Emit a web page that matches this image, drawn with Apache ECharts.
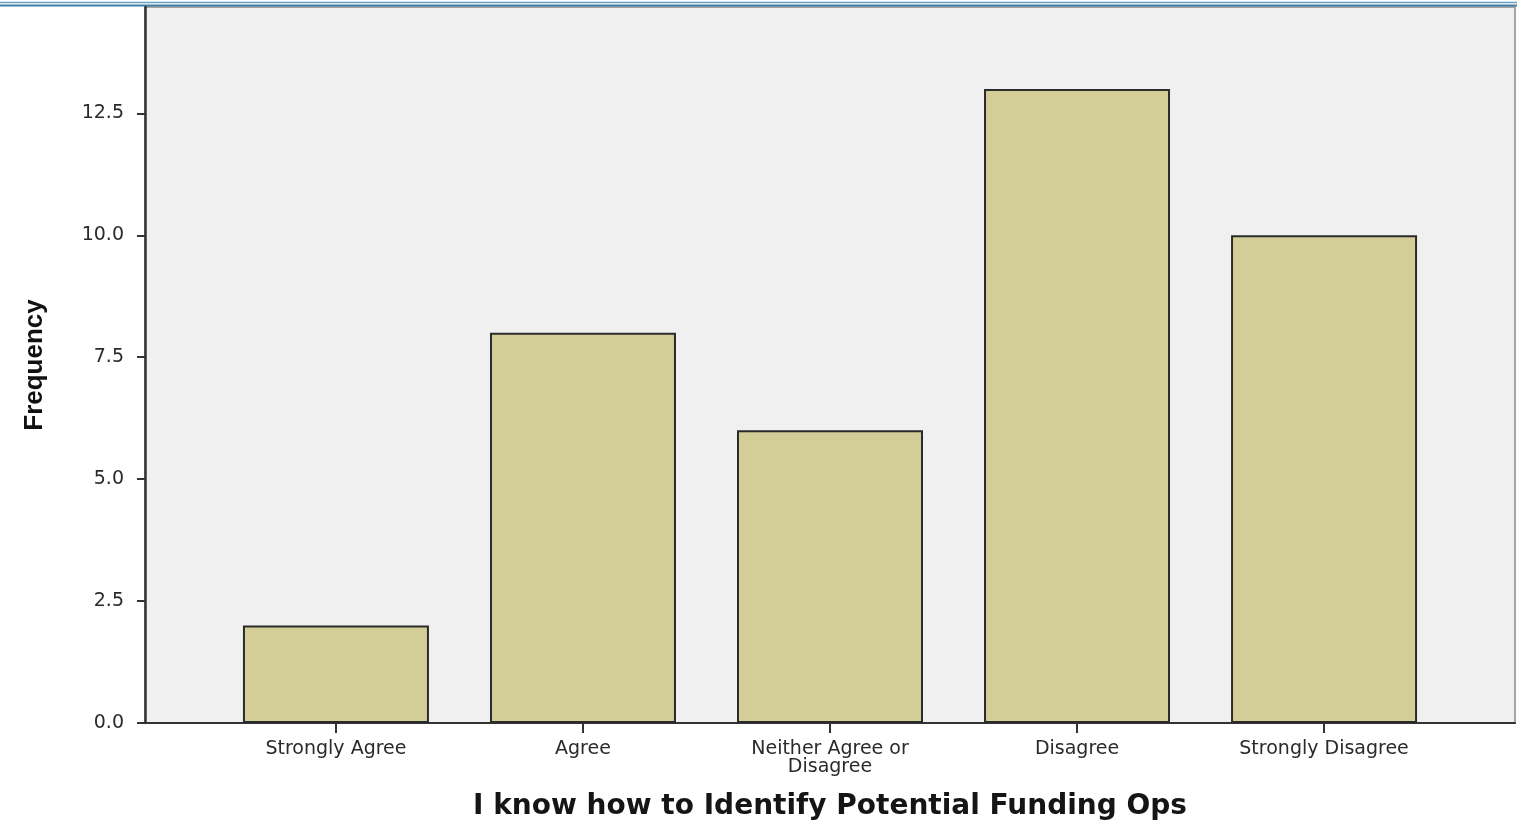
<!DOCTYPE html>
<html>
<head>
<meta charset="utf-8">
<script src="https://cdn.jsdelivr.net/npm/echarts@6/dist/echarts.min.js"></script>
<style>html,body{margin:0;padding:0;background:#fff}#c{width:1517px;height:828px}</style>
</head>
<body>
<div id="c"></div>
<script>
const categories = ['Strongly Agree', 'Agree', 'Neither Agree or\nDisagree', 'Disagree', 'Strongly Disagree'];
const frequency = [2, 8, 6, 13, 10];
const yTicks = [0, 2.5, 5, 7.5, 10, 12.5];

const positions = categories.map((c, i) => i);
const barData = frequency.map((v, i) => [positions[i], v]);

const chart = echarts.init(document.getElementById('c'));
chart.setOption({
  backgroundColor: '#ffffff',
  animation: false,
  graphic: [
    { type: 'line', shape: { x1: 0, y1: 2.5, x2: 1517, y2: 2.5 }, style: { stroke: '#6a9fbf', lineWidth: 1.5 } },
    { type: 'line', shape: { x1: 0, y1: 5.5, x2: 1517, y2: 5.5 }, style: { stroke: '#3f7fa8', lineWidth: 2 } }
  ],
  grid: {
    left: 145, right: 2, top: 7, bottom: 105,
    show: true, backgroundColor: '#f0f0f0', borderColor: '#8a8a8a', borderWidth: 1.5
  },
  xAxis: {
    type: 'value',
    min: -0.773, max: 4.773,
    name: 'I know how to Identify Potential Funding Ops',
    nameLocation: 'middle',
    nameGap: 70,
    nameTextStyle: { fontFamily: 'DejaVu Sans', fontWeight: 'bold', fontSize: 28, color: '#151515' },
    axisLine: { show: true, onZero: false, lineStyle: { color: '#333', width: 2 } },
    axisTick: { show: true, customValues: positions, length: 10, lineStyle: { color: '#333', width: 2 } },
    axisLabel: {
      customValues: positions,
      formatter: v => categories[Math.round(v)],
      fontFamily: 'DejaVu Sans', fontSize: 19, color: '#2a2a2a',
      lineHeight: 18, margin: 17
    },
    splitLine: { show: false }
  },
  yAxis: {
    type: 'value',
    min: 0, max: 14.68, interval: 2.5,
    name: 'Frequency',
    nameLocation: 'middle',
    nameGap: 97,
    nameTextStyle: { fontFamily: 'Liberation Sans', fontWeight: 'bold', fontSize: 26, color: '#111' },
    axisLine: { show: true, onZero: false, lineStyle: { color: '#333', width: 2.5 } },
    axisTick: { show: true, customValues: yTicks, length: 8, lineStyle: { color: '#333', width: 2 } },
    axisLabel: {
      customValues: yTicks,
      formatter: v => v.toFixed(1),
      fontFamily: 'DejaVu Sans', fontSize: 19, color: '#2a2a2a', margin: 21
    },
    splitLine: { show: false }
  },
  series: [{
    type: 'bar',
    data: barData,
    barWidth: 186,
    itemStyle: { color: '#d3ce97', borderColor: '#2b2b2b', borderWidth: 2 }
  }]
});
</script>
</body>
</html>
